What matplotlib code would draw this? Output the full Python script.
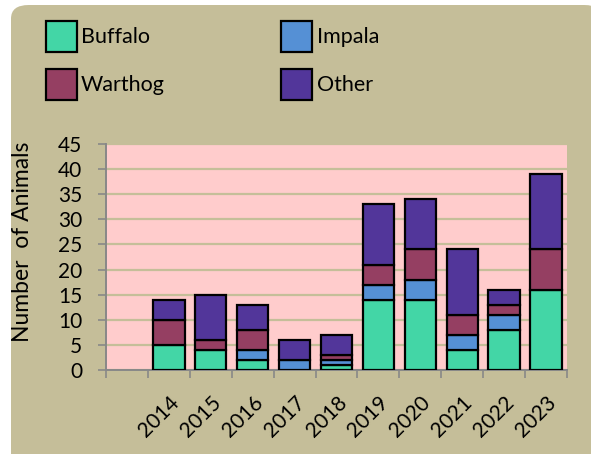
import matplotlib
matplotlib.use("Agg")
import matplotlib.pyplot as plt
from matplotlib.patches import FancyBboxPatch, Patch
import matplotlib.transforms as mtransforms
import numpy as np

plt.rcParams['font.family'] = ['Lato', 'DejaVu Sans']

years = ["", "2014", "2015", "2016", "2017", "2018", "2019", "2020", "2021", "2022", "2023"]
buffalo = [0, 5, 4, 2, 0, 1, 14, 14, 4, 8, 16]
impala  = [0, 0, 0, 2, 2, 1, 3, 4, 3, 3, 0]
warthog = [0, 5, 2, 4, 0, 1, 4, 6, 4, 2, 8]
other   = [0, 4, 9, 5, 4, 4, 12, 10, 13, 3, 15]

series = [("Buffalo", buffalo, "#43D6A6"),
          ("Impala", impala, "#5590D5"),
          ("Warthog", warthog, "#953F62"),
          ("Other", other, "#52369A")]

W, H = 591, 454
fig = plt.figure(figsize=(W/100, H/100), dpi=100)
fig.patch.set_facecolor("white")
panel = FancyBboxPatch((11/W, -0.1), 1.0, 1.0 + 0.1 - 5/H,
                       boxstyle="round,pad=0,rounding_size=0.03",
                       transform=fig.transFigure, facecolor="#C5BE99",
                       edgecolor="none", zorder=-10)
fig.add_artist(panel)

ax = fig.add_axes([106/W, 1-370/H, (567-106)/W, (370-144)/H], zorder=1)
ax.set_facecolor("#FFCCCC")

x = np.arange(len(years))
bottom = np.zeros(len(years))
for name, vals, col in series:
    v = np.array(vals, dtype=float)
    m = v > 0
    ax.bar(x[m], v[m], bottom=bottom[m], width=0.75, color=col, edgecolor="black",
           linewidth=1.6, zorder=3, label=name)
    bottom += v

ax.set_xlim(-0.5, len(years) - 0.5)
ax.set_ylim(0, 45)
ax.set_yticks(np.arange(0, 46, 5))
ax.yaxis.grid(True, color="#C5BE99", linewidth=1.6, zorder=1)
ax.set_axisbelow(True)

ax.set_xticks(x)
ax.set_xticklabels(years, rotation=45, ha="right", rotation_mode="anchor", fontsize=15)
offset = mtransforms.ScaledTranslation(-4/100, 0, fig.dpi_scale_trans)
for lbl in ax.get_xticklabels():
    lbl.set_transform(lbl.get_transform() + offset)
ax.set_xticks(np.arange(-0.5, len(years)), minor=True)
ax.tick_params(axis="x", which="major", length=0, pad=16)
ax.tick_params(axis="x", which="minor", length=6, color="#888888", width=1.2, direction="out")
ax.tick_params(axis="y", length=6, color="#888888", width=1.2, labelsize=15, pad=11)

for s in ["top", "right"]:
    ax.spines[s].set_visible(False)
for s in ["left", "bottom"]:
    ax.spines[s].set_color("#888888")
    ax.spines[s].set_linewidth(1.4)

ax.set_ylabel("Number  of Animals", fontsize=16.5)
ax.yaxis.set_label_coords((33-106)/461, (370-241.5)/226)

handles = [Patch(facecolor=c, edgecolor="black", linewidth=1.6) for _, _, c in series]
labels = [n for n, _, _ in series]
leg = fig.legend([handles[i] for i in [0, 2, 1, 3]], [labels[i] for i in [0, 2, 1, 3]],
                 ncol=2, loc="upper left", bbox_to_anchor=(37/W, 1-12/H),
                 frameon=False, fontsize=15.5, handlelength=1.45, handleheight=1.9,
                 handletextpad=0.2, columnspacing=5.4, labelspacing=0.75,
                 borderaxespad=0)

fig.savefig("out.png", dpi=100, facecolor="white")
